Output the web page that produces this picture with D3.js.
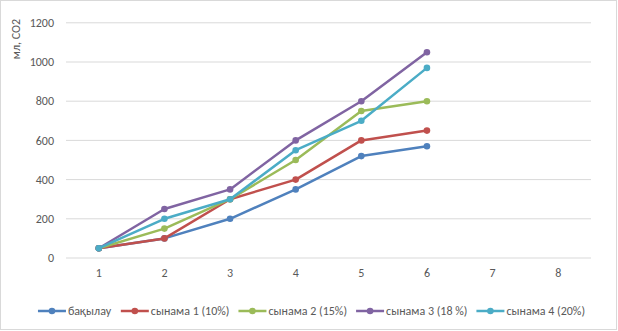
<!DOCTYPE html>
<html>
<head>
<meta charset="utf-8">
<script src="https://cdn.jsdelivr.net/npm/d3@7"></script>
<style>
  body { margin: 0; background: #fff; }
  text { font-family: Calibri, Carlito, "Open Sans", sans-serif; fill: #595959; }
</style>
</head>
<body>
<div id="chart"></div>
<script>
const categories = ["1", "2", "3", "4", "5", "6", "7", "8"]
const yTicks = [0, 200, 400, 600, 800, 1000, 1200]
const seriesNames = ["бақылау", "сынама 1 (10%)", "сынама 2 (15%)", "сынама 3 (18 %)", "сынама 4 (20%)"]
const seriesColors = ["#4F81BD", "#C0504D", "#9BBB59", "#8064A2", "#4BACC6"]
const control = [50, 100, 200, 350, 520, 570]
const sample1 = [50, 100, 300, 400, 600, 650]
const sample2 = [50, 150, 300, 500, 750, 800]
const sample3 = [50, 250, 350, 600, 800, 1050]
const sample4 = [50, 200, 300, 550, 700, 970]
const seriesValues = [control, sample1, sample2, sample3, sample4]

const width = 618, height = 331
const fontSize = 12

const x = d3.scaleBand().domain(categories).range([66, 591])
const y = d3.scaleLinear().domain([0, 1200]).range([258, 22.8])

const svg = d3.select('#chart').append('svg')
    .attr('width', width)
    .attr('height', height)

// chart border
svg.append('rect')
    .attr('x', 0.5).attr('y', 0.5)
    .attr('width', width - 2).attr('height', height - 2)
    .attr('fill', '#fff')
    .attr('stroke', '#d9d9d9')

// gridlines
svg.append('g')
    .selectAll('line')
    .data(yTicks)
    .join('line')
    .attr('x1', 66).attr('x2', 591)
    .attr('y1', d => y(d)).attr('y2', d => y(d))
    .attr('stroke', '#d9d9d9')
    .attr('stroke-width', 1)

// y tick labels
svg.append('g')
    .selectAll('text')
    .data(yTicks)
    .join('text')
    .attr('x', 54)
    .attr('y', d => y(d))
    .attr('dy', '0.35em')
    .attr('text-anchor', 'end')
    .attr('font-size', fontSize)
    .text(d => d)

// x tick labels
svg.append('g')
    .selectAll('text')
    .data(categories)
    .join('text')
    .attr('x', d => x(d) + x.bandwidth() / 2)
    .attr('y', 273)
    .attr('dy', '0.35em')
    .attr('text-anchor', 'middle')
    .attr('font-size', fontSize)
    .text(d => d)

// y axis title
svg.append('text')
    .attr('transform', 'translate(16,39) rotate(-90)')
    .attr('text-anchor', 'middle')
    .attr('dy', '0.35em')
    .attr('font-size', fontSize)
    .text('мл, CO2')

const line = d3.line()
    .x((d, i) => x(categories[i]) + x.bandwidth() / 2)
    .y(d => y(d))

const series = svg.append('g')
    .selectAll('g')
    .data(seriesValues)
    .join('g')

series.append('path')
    .attr('d', d => line(d))
    .attr('fill', 'none')
    .attr('stroke', (d, i) => seriesColors[i])
    .attr('stroke-width', 2.5)
    .attr('stroke-linejoin', 'round')

series.each(function (vals, si) {
    d3.select(this).selectAll('circle')
        .data(vals)
        .join('circle')
        .attr('cx', (d, i) => x(categories[i]) + x.bandwidth() / 2)
        .attr('cy', d => y(d))
        .attr('r', 3.3)
        .attr('fill', seriesColors[si])
})

// legend
const legend = svg.append('g')
const items = legend.selectAll('g')
    .data(seriesNames)
    .join('g')
items.append('line')
    .attr('x1', 0).attr('x2', 28)
    .attr('y1', 0).attr('y2', 0)
    .attr('stroke', (d, i) => seriesColors[i])
    .attr('stroke-width', 2.5)
items.append('circle')
    .attr('cx', 14).attr('cy', 0).attr('r', 3.3)
    .attr('fill', (d, i) => seriesColors[i])
items.append('text')
    .attr('x', 30)
    .attr('dy', '0.35em')
    .attr('font-size', fontSize)
    .text(d => d)

let offset = 0
const positions = []
items.each(function () {
    positions.push(offset)
    offset += this.getBBox().width + 9
})
const total = offset - 9
const start = 311.5 - total / 2
items.attr('transform', (d, i) => `translate(${start + positions[i]},311)`)
</script>
</body>
</html>
